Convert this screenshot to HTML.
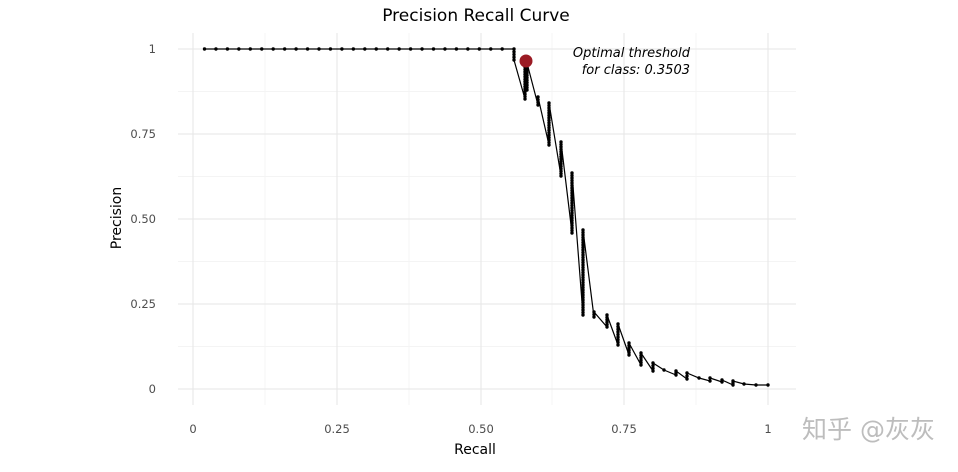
<!DOCTYPE html>
<html><head><meta charset="utf-8"><style>
body{margin:0;background:#fff;width:958px;height:467px;overflow:hidden}
svg text{font-family:"DejaVu Sans","Liberation Sans",sans-serif}
</style></head><body>
<svg id="s" width="958" height="467" xmlns="http://www.w3.org/2000/svg">
<g stroke="#f4f4f4" stroke-width="1">
<line x1="265" y1="33" x2="265" y2="405"/><line x1="409" y1="33" x2="409" y2="405"/><line x1="552" y1="33" x2="552" y2="405"/><line x1="696" y1="33" x2="696" y2="405"/>
<line x1="178" y1="91.5" x2="796" y2="91.5"/><line x1="178" y1="176.5" x2="796" y2="176.5"/><line x1="178" y1="261.5" x2="796" y2="261.5"/><line x1="178" y1="346.5" x2="796" y2="346.5"/>
</g>
<g stroke="#e6e6e6" stroke-width="1">
<line x1="193" y1="33" x2="193" y2="405"/><line x1="337" y1="33" x2="337" y2="405"/><line x1="481" y1="33" x2="481" y2="405"/><line x1="624" y1="33" x2="624" y2="405"/><line x1="768" y1="33" x2="768" y2="405"/>
<line x1="178" y1="49" x2="796" y2="49"/><line x1="178" y1="134" x2="796" y2="134"/><line x1="178" y1="219" x2="796" y2="219"/><line x1="178" y1="304" x2="796" y2="304"/><line x1="178" y1="389" x2="796" y2="389"/>
</g>
<g font-size="11.5" fill="#4d4d4d" text-anchor="end">
<text x="156" y="53">1</text><text x="156" y="138">0.75</text><text x="156" y="223">0.50</text><text x="156" y="308">0.25</text><text x="156" y="393">0</text>
</g>
<g font-size="11.5" fill="#4d4d4d" text-anchor="middle">
<text x="193" y="433">0</text><text x="337" y="433">0.25</text><text x="481" y="433">0.50</text><text x="624" y="433">0.75</text><text x="768" y="433">1</text>
</g>
<text x="476" y="21" font-size="17" text-anchor="middle">Precision Recall Curve</text>
<text x="475" y="454" font-size="14" text-anchor="middle">Recall</text>
<text transform="translate(121,218) rotate(-90)" font-size="14" text-anchor="middle">Precision</text>
<g font-size="13" font-style="italic" text-anchor="end"><text x="690" y="57">Optimal threshold</text><text x="690" y="74">for class: 0.3503</text></g>
<text x="935" y="438" font-size="25" fill="#bdbdbd" text-anchor="end" font-family="'Liberation Sans','Noto Sans CJK SC',sans-serif">知乎 @灰灰</text>
<g id="c"></g>
</svg>
<script>
var segs=[];
for(var i=0;i<27;i++)segs.push([204.5+i*11.45,49]);
var v=[[514,49,60],[525,62,99],[527,63,90],[538,97,105],[549,103,145],[561,142,176],[572,173,233],[583,230,315],[594,312,317],[607,315,327],[618,324,345],[629,343,355],[641,353,365],[653,363,371],[664,370,370],[676,371,375],[687,373,379],[699,378,378],[710,378,381],[722,380,382],[733,381,385],[744,384,384],[756,385,385],[768,385,385]];
v.forEach(function(a,idx){var n=Math.max(1,Math.round((a[2]-a[1])/2.5));
 if(a[1]==a[2]){segs.push([a[0],a[1]]);return;}
 if(idx==0){for(var k=0;k<=n;k++)segs.push([a[0],a[1]+(a[2]-a[1])*k/n]);return;}
 for(var k=n;k>=0;k--)segs.push([a[0],a[1]+(a[2]-a[1])*k/n]);});
var g=document.getElementById('c'),ns='http://www.w3.org/2000/svg';
var pl=document.createElementNS(ns,'polyline');pl.setAttribute('points',segs.map(function(p){return p.join(',')}).join(' '));pl.setAttribute('fill','none');pl.setAttribute('stroke','#000');pl.setAttribute('stroke-width','1.2');g.appendChild(pl);
segs.forEach(function(p){var c=document.createElementNS(ns,'circle');c.setAttribute('cx',p[0]);c.setAttribute('cy',p[1]);c.setAttribute('r','1.7');g.appendChild(c);});
var r=document.createElementNS(ns,'circle');r.setAttribute('cx',526);r.setAttribute('cy',61);r.setAttribute('r',6.5);r.setAttribute('fill','#9b1b24');g.appendChild(r);
</script>
</body></html>
